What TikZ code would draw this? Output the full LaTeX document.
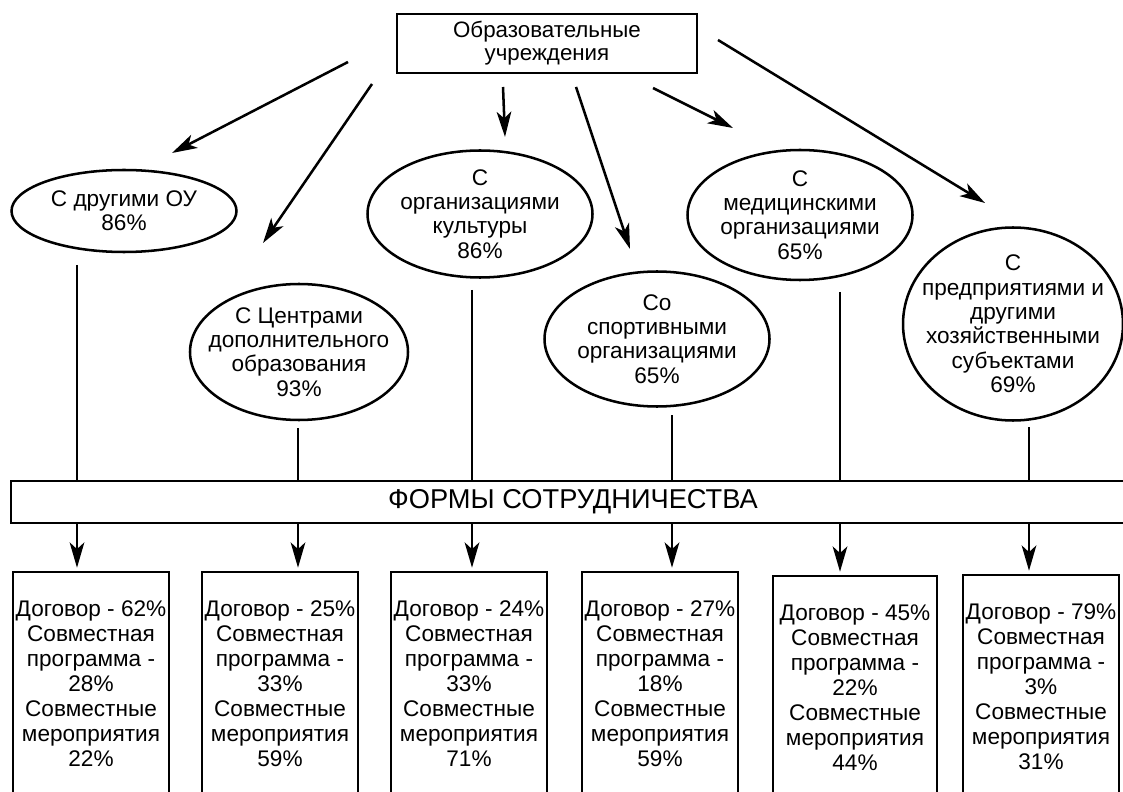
\documentclass[tikz,border=0pt]{standalone}
\usepackage{fontspec}
\setmainfont{Liberation Sans}
\usetikzlibrary{shapes.geometric, arrows.meta}
\newcommand{\pxu}{0.2645mm}

\begin{document}
\begin{tikzpicture}[x=\pxu, y=-\pxu, line width=1.9pt,
  oval/.style={ellipse, draw, inner sep=0pt},
  ovaltext/.style={align=center, font=\fontsize{17}{18.3}\selectfont},
  formbox/.style={rectangle, draw, minimum width=156*\pxu, minimum height=224*\pxu, align=center, inner sep=0pt, font=\fontsize{17}{18.8}\selectfont},
  arr/.style={-{Stealth[length=19pt, width=11pt, inset=5pt]}}]
  \useasboundingbox (0,0) rectangle (1123,792);

  \node (school) [rectangle, draw, minimum height=59*\pxu, minimum width=300*\pxu, align=center, font=\fontsize{16.8}{17.5}\selectfont] at (547,43.5) {Образовательные\\учреждения};

  % partners
  \node (others) [oval, minimum width=225*\pxu, minimum height=82*\pxu, label={[ovaltext]center:С другими ОУ\\86\%}] at (124,211) {};
  \node (centres) [oval, minimum width=218*\pxu, minimum height=136*\pxu, label={[ovaltext]center:С Центрами\\дополнительного\\образования\\93\%}] at (299,352) {};
  \node (culture) [oval, minimum width=225*\pxu, minimum height=127*\pxu, label={[ovaltext]center:С\\организациями\\культуры\\86\%}] at (480,214) {};
  \node (sport) [oval, minimum width=225*\pxu, minimum height=135*\pxu, label={[ovaltext]center:Со\\спортивными\\организациями\\65\%}] at (657,339) {};
  \node (medical) [oval, minimum width=225*\pxu, minimum height=130*\pxu, label={[ovaltext]center:С\\медицинскими\\организациями\\65\%}] at (800,215) {};
  \node (business) [oval, minimum width=220*\pxu, minimum height=193*\pxu, label={[ovaltext]center:С\\предприятиями и\\другими\\хозяйственными\\субъектами\\69\%}] at (1013,324) {};

  \coordinate (s1) at (348,62);  \coordinate (t1) at (172,153);
  \coordinate (s2) at (372,84);  \coordinate (t2) at (263,243);
  \coordinate (s3) at (503,87);  \coordinate (t3) at (505,137);
  \coordinate (s4) at (576,87);  \coordinate (t4) at (630,249);
  \coordinate (s5) at (653,88);  \coordinate (t5) at (733,128);
  \coordinate (s6) at (718,40);  \coordinate (t6) at (985,203);
  \draw[arr] (s1) -- (t1);
  \draw[arr] (s2) -- (t2);
  \draw[arr] (s3) -- (t3);
  \draw[arr] (s4) -- (t4);
  \draw[arr] (s5) -- (t5);
  \draw[arr] (s6) -- (t6);

  \node (forms) [rectangle, draw, minimum height=42*\pxu, minimum width=1124*\pxu, font=\fontsize{20.5}{22}\selectfont] at (573,502) {ФОРМЫ СОТРУДНИЧЕСТВА};

  % forms of cooperation
  \node (othersbox) [formbox] at (91,684) {Договор - 62\%\\Совместная\\программа -\\28\%\\Совместные\\мероприятия\\22\%};
  \node (centresbox) [formbox] at (280,684) {Договор - 25\%\\Совместная\\программа -\\33\%\\Совместные\\мероприятия\\59\%};
  \node (culturebox) [formbox] at (469,684) {Договор - 24\%\\Совместная\\программа -\\33\%\\Совместные\\мероприятия\\71\%};
  \node (sportbox) [formbox] at (660,684) {Договор - 27\%\\Совместная\\программа -\\18\%\\Совместные\\мероприятия\\59\%};
  \node (medicalbox) [formbox, minimum width=164*\pxu] at (855,688) {Договор - 45\%\\Совместная\\программа -\\22\%\\Совместные\\мероприятия\\44\%};
  \node (businessbox) [formbox] at (1041,687) {Договор - 79\%\\Совместная\\программа -\\3\%\\Совместные\\мероприятия\\31\%};

  \coordinate (v1) at (77,265);
  \coordinate (v2) at (298,428);
  \coordinate (v3) at (472,290);
  \coordinate (v4) at (672,415);
  \coordinate (v5) at (840,292);
  \coordinate (v6) at (1029,427);
  \draw (v1) -- (v1 |- forms.north);
  \draw (v2) -- (v2 |- forms.north);
  \draw (v3) -- (v3 |- forms.north);
  \draw (v4) -- (v4 |- forms.north);
  \draw (v5) -- (v5 |- forms.north);
  \draw (v6) -- (v6 |- forms.north);
  \draw[arr, shorten >=0.8mm] (v1 |- forms.south) -- (v1 |- othersbox.north);
  \draw[arr, shorten >=0.8mm] (v2 |- forms.south) -- (v2 |- centresbox.north);
  \draw[arr, shorten >=0.8mm] (v3 |- forms.south) -- (v3 |- culturebox.north);
  \draw[arr, shorten >=0.8mm] (v4 |- forms.south) -- (v4 |- sportbox.north);
  \draw[arr, shorten >=0.8mm] (v5 |- forms.south) -- (v5 |- medicalbox.north);
  \draw[arr, shorten >=0.8mm] (v6 |- forms.south) -- (v6 |- businessbox.north);
\end{tikzpicture}
\end{document}
